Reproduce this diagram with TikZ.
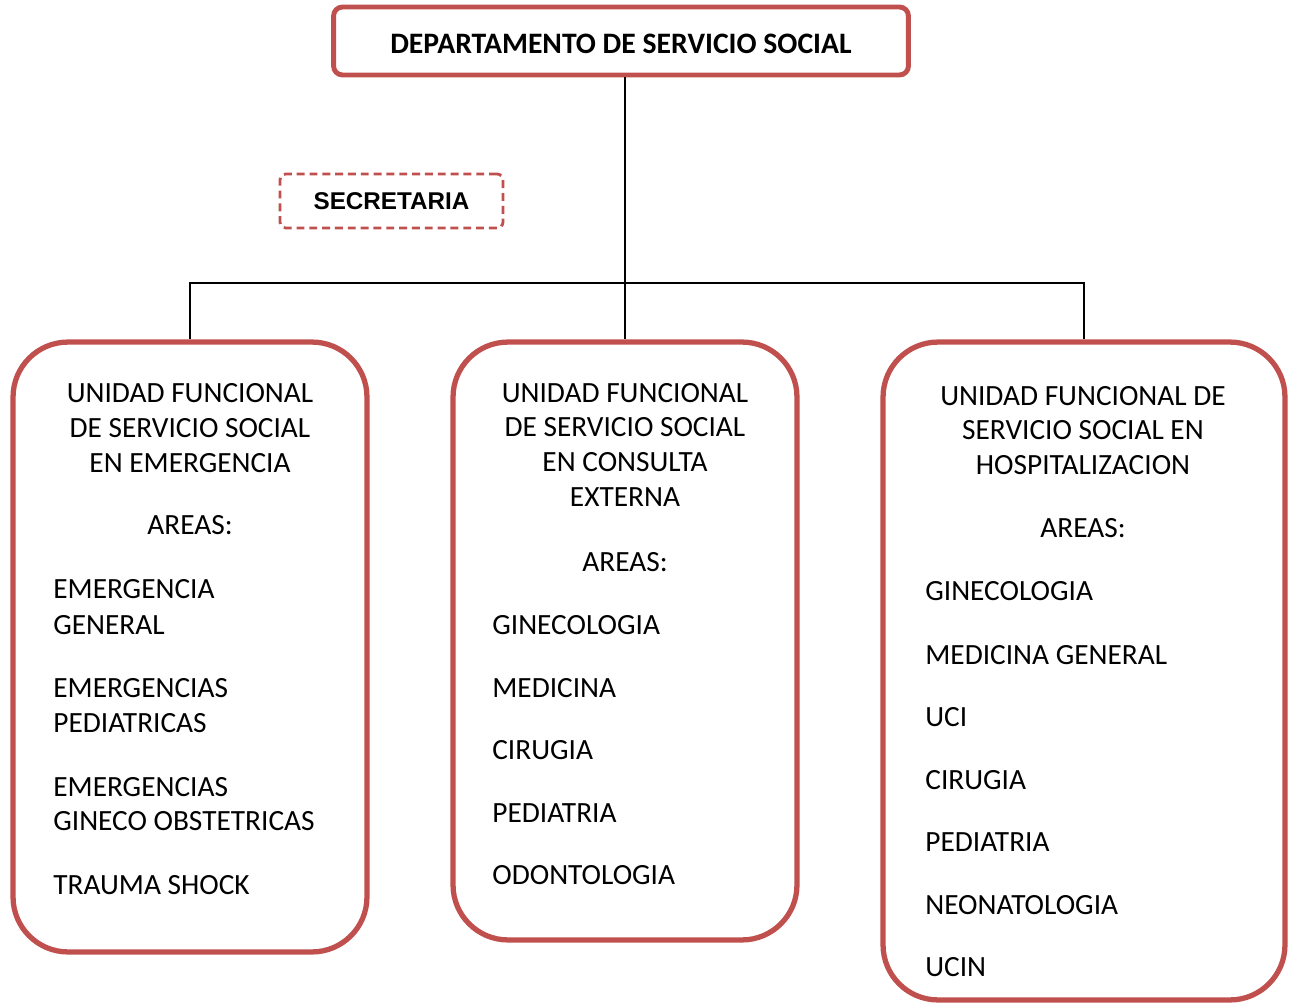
\documentclass[tikz,border=0pt]{standalone}
\usepackage{fontspec}
\setmainfont{Carlito}
\newfontfamily\arialfont{Liberation Sans}
\usepackage{xcolor}
\usetikzlibrary{positioning}
\definecolor{boxred}{HTML}{C0504D}

\begin{document}
\begin{tikzpicture}[x=0.02cm, y=-0.02cm,
    unitbox/.style={draw=boxred, line width=3pt, rounded corners=1.1cm},
    headbox/.style={draw=boxred, line width=2.8pt, rounded corners=0.18cm, text height=14.5pt, text depth=0pt, font=\bfseries\fontsize{16.9}{20}\selectfont},
    secbox/.style={draw=boxred, line width=1.6pt, dash pattern=on 4.5pt off 2.8pt, rounded corners=0.12cm, font=\arialfont\bfseries\fontsize{13.8}{16}\selectfont},
    txt/.style={font=\fontsize{16.7}{20}\selectfont, inner sep=0pt},
    link/.style={black, line width=1.1pt}
]
    \useasboundingbox (0,0) rectangle (1294,1003);
    \node[headbox, minimum width=11.5cm, minimum height=1.36cm] (dept) at (621,41) {DEPARTAMENTO DE SERVICIO SOCIAL};
    \node[secbox, minimum width=4.46cm, minimum height=1.08cm] (sec) at (391.5,201) {SECRETARIA};
    \node[unitbox, minimum width=7.08cm, minimum height=12.2cm] (emerg) at (190,647) {};
    \node[unitbox, minimum width=6.88cm, minimum height=11.96cm] (consult) at (625,641) {};
    \node[unitbox, minimum width=8.04cm, minimum height=13.16cm] (hosp) at (1084,671) {};
    \coordinate (bar) at (625,283);
    \draw[link] (dept.south -| consult.north) -- (consult.north);
    \draw[link] (emerg.north) |- (bar) -| (hosp.north);
    % emergencia
    \foreach \t/\y [count=\i] in {UNIDAD FUNCIONAL/393, DE SERVICIO SOCIAL/428, EN EMERGENCIA/463, AREAS:/525}
        \node[txt, anchor=base] (eh\i) at (190,\y+9) {\t};
    \foreach \t/\y [count=\i] in {EMERGENCIA/589, GENERAL/625, EMERGENCIAS/688, PEDIATRICAS/723,
        EMERGENCIAS/787, GINECO OBSTETRICAS/821, TRAUMA SHOCK/885}
        \node[txt, anchor=base west] (ea\i) at (53,\y+9) {\t};
    % consulta externa
    \foreach \t/\y [count=\i] in {UNIDAD FUNCIONAL/393, DE SERVICIO SOCIAL/427, EN CONSULTA/462, EXTERNA/497, AREAS:/562}
        \node[txt, anchor=base] (ch\i) at (625,\y+9) {\t};
    \foreach \t/\y [count=\i] in {GINECOLOGIA/625, MEDICINA/688, CIRUGIA/750, PEDIATRIA/813, ODONTOLOGIA/875}
        \node[txt, anchor=base west] (ca\i) at (492,\y+9) {\t};
    % hospitalizacion
    \foreach \t/\y [count=\i] in {UNIDAD FUNCIONAL DE/396, SERVICIO SOCIAL EN/430, HOSPITALIZACION/465, AREAS:/528}
        \node[txt, anchor=base] (hh\i) at (1083,\y+9) {\t};
    \foreach \t/\y [count=\i] in {GINECOLOGIA/591, MEDICINA GENERAL/655, UCI/717, CIRUGIA/780,
        PEDIATRIA/842, NEONATOLOGIA/905, UCIN/967}
        \node[txt, anchor=base west] (ha\i) at (925,\y+9) {\t};
\end{tikzpicture}
\end{document}
